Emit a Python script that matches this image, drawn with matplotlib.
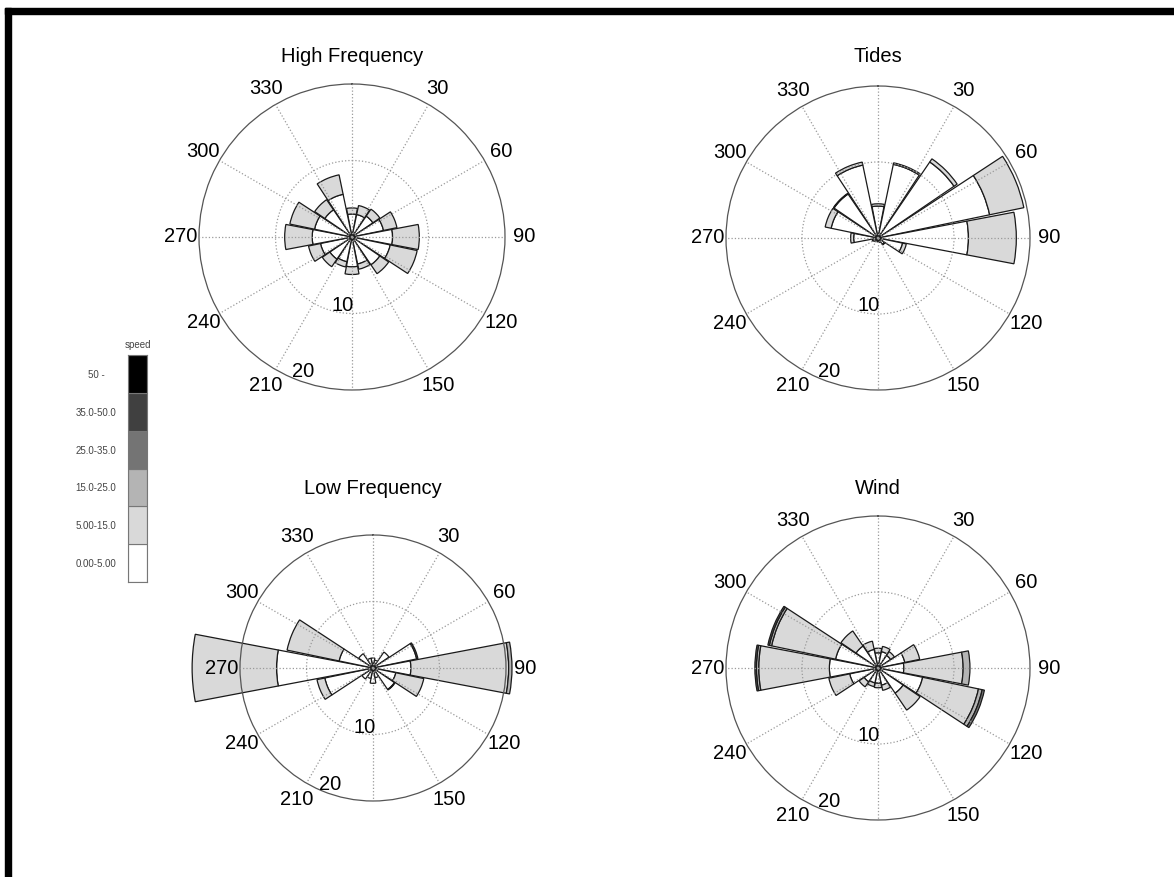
import numpy as np
import matplotlib
matplotlib.use("Agg")
import matplotlib.pyplot as plt
from matplotlib.patches import Rectangle

plt.rcParams["font.family"] = ["Liberation Sans", "DejaVu Sans"]

# direction bins (deg, clockwise from north)
dirs = np.arange(0, 360, 22.5)

speed_labels = ["0.00-5.00", "5.00-15.0", "15.0-25.0", "25.0-35.0", "35.0-50.0", "50 -"]
speed_colors = ["#ffffff", "#d9d9d9", "#b4b4b4", "#747474", "#404040", "#000000"]

# frequency per speed class (segment lengths), 16 directions each
hf_0_5 = [3.0, 3.0, 3.3, 4.2, 5.3, 5.1, 4.4, 3.6, 3.9, 3.3, 3.5, 4.2, 5.2, 5.0, 4.3, 5.7]
hf_5_15 = [0.8, 1.2, 1.1, 1.8, 3.5, 3.6, 1.4, 0.7, 1.0, 0.7, 1.2, 1.6, 3.6, 3.3, 1.6, 2.6]

tide_0_5 = [4.2, 9.9, 12.1, 15.0, 11.9, 3.3, 1.0, 0.6, 0.5, 0.5, 0.6, 0.8, 3.2, 6.3, 7.0, 9.8]
tide_5_15 = [0.3, 0.2, 0.5, 4.6, 6.3, 0.5, 0.1, 0.0, 0.0, 0.0, 0.0, 0.0, 0.4, 0.8, 0.1, 0.4]

lf_0_5 = [1.5, 1.2, 2.9, 6.7, 5.7, 3.5, 3.9, 1.5, 2.3, 1.6, 2.0, 7.4, 14.5, 5.2, 2.6, 1.5]
lf_5_15 = [0.0, 0.0, 0.0, 0.2, 14.7, 4.3, 0.1, 0.0, 0.0, 0.0, 0.0, 1.2, 12.7, 8.0, 0.0, 0.0]
lf_15_25 = [0.0, 0.0, 0.0, 0.0, 0.5, 0.0, 0.0, 0.0, 0.0, 0.0, 0.0, 0.0, 0.0, 0.0, 0.0, 0.0]

wind_0_5 = [2.0, 2.2, 2.0, 3.6, 3.4, 6.0, 4.0, 2.3, 2.0, 2.0, 2.2, 3.8, 6.4, 5.7, 3.5, 2.5]
wind_5_15 = [0.6, 0.7, 0.6, 2.0, 7.8, 7.5, 2.7, 0.7, 0.6, 0.5, 0.8, 2.8, 9.3, 8.6, 2.4, 1.1]
wind_15_25 = [0.0, 0.0, 0.0, 0.0, 0.9, 0.5, 0.0, 0.0, 0.0, 0.0, 0.0, 0.0, 0.3, 0.3, 0.0, 0.0]
wind_25_35 = [0.0, 0.0, 0.0, 0.0, 0.0, 0.3, 0.0, 0.0, 0.0, 0.0, 0.0, 0.0, 0.2, 0.2, 0.0, 0.0]

panels = [
    ("High Frequency", [hf_0_5, hf_5_15], 352, 237, 153),
    ("Tides", [tide_0_5, tide_5_15], 878, 238, 152),
    ("Low Frequency", [lf_0_5, lf_5_15, lf_15_25], 373, 668, 133),
    ("Wind", [wind_0_5, wind_5_15, wind_15_25, wind_25_35], 878, 668, 152),
]

W, H = 1174, 877
fig = plt.figure(figsize=(W / 100, H / 100), dpi=100)

theta = np.deg2rad(dirs)
width = np.deg2rad(21.5)
fs = 14.5

for title, classes, cx, cy, rad in panels:
    ax = fig.add_axes([(cx - rad) / W, (H - cy - rad) / H, 2 * rad / W, 2 * rad / H],
                      projection="polar")
    ax.set_theta_zero_location("N")
    ax.set_theta_direction(-1)
    bottom = np.zeros(len(dirs))
    for k, seg in enumerate(classes):
        seg = np.array(seg)
        keep = seg > 0
        bars = ax.bar(theta[keep], seg[keep], width=width, bottom=bottom[keep],
                      color=speed_colors[k], edgecolor="#1a1a1a", linewidth=0.9)
        for b in bars:
            b.set_clip_on(False)
        bottom = bottom + seg
    ax.set_ylim(0, 20)
    ax.set_yticks([10])
    ax.set_yticklabels([])
    ax.set_thetagrids(np.arange(0, 360, 30),
                      labels=["", "30", "60", "90", "120", "150", "", "210",
                              "240", "270", "300", "330"], fontsize=fs)
    ax.tick_params(axis="x", pad=3)
    ax.grid(True, color="#9a9a9a", linestyle=":", linewidth=0.9)
    ax.set_axisbelow(False)
    ax.spines["polar"].set_color("#555555")
    ax.spines["polar"].set_linewidth(0.9)
    ax.text(np.deg2rad(188), 9.0, "10", ha="center", va="center", fontsize=fs)
    ax.text(np.deg2rad(200), 18.7, "20", ha="center", va="center", fontsize=fs)
    ty = 57 if cy < 400 else 488
    fig.text(cx / W, 1 - ty / H, title, ha="center", va="center", fontsize=fs)

# speed legend
lax = fig.add_axes([128 / W, 1 - 582 / H, 19 / W, 227 / H])
lax.bar(np.zeros(6), np.ones(6), width=1, bottom=np.arange(6), color=speed_colors,
        edgecolor="#777777", linewidth=0.8)
lax.set_xlim(-0.5, 0.5)
lax.set_ylim(0, 6)
lax.set_xticks([])
lax.set_yticks(np.arange(6) + 0.5, speed_labels, fontsize=7, color="#444444")
for lbl in lax.get_yticklabels():
    lbl.set_ha("center")
lax.tick_params(axis="y", length=0, pad=23)
for s in lax.spines.values():
    s.set_color("#777777")
lax.set_title("speed", fontsize=7, color="#444444", pad=5)

# black frame (top and left)
fig.add_artist(Rectangle((5 / W, 0), 6 / W, 1 - 8 / H, transform=fig.transFigure,
                         color="black"))
fig.add_artist(Rectangle((5 / W, 1 - 14 / H), 1 - 5 / W, 6 / H, transform=fig.transFigure,
                         color="black"))

fig.savefig("out.png", dpi=100)
